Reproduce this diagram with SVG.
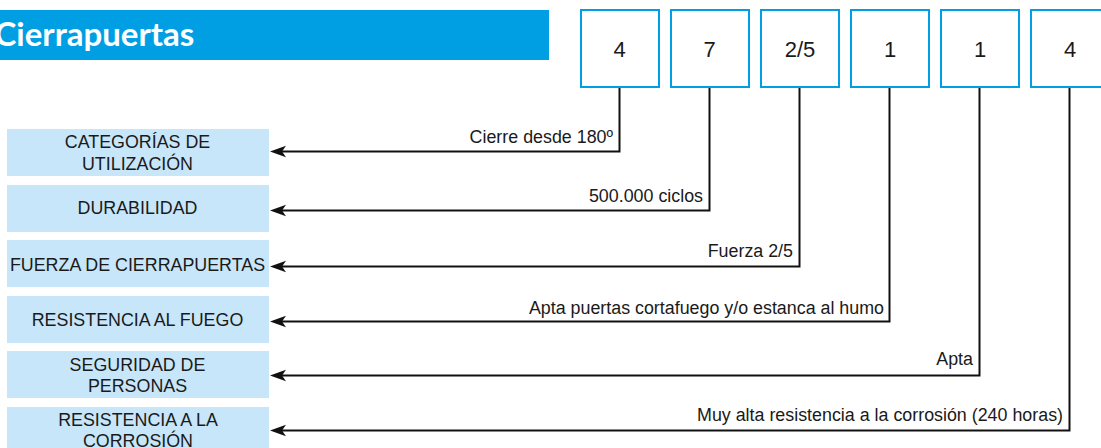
<svg xmlns="http://www.w3.org/2000/svg" width="1101" height="448" viewBox="0 0 1101 448">
<style>
text{font-family:"Liberation Sans",Arial,sans-serif;fill:#1a1a1a}
.t{font-size:17.85px;text-anchor:middle}
.l{font-size:17.85px;text-anchor:end}
.n{font-size:22px;text-anchor:middle}
.b{fill:#c8e6f9}
.s{fill:#fff;stroke:#009fe3;stroke-width:2}
.c{fill:none;stroke:#111;stroke-width:2;marker-end:url(#a)}
</style>
<defs><marker id="a" markerUnits="userSpaceOnUse" markerWidth="17" markerHeight="13" refX="6" refY="6.500" orient="auto"><path d="M16 6.500 L0 0.800 L4 6.500 L0 12.200 Z" fill="#111"/></marker></defs>
<rect id="title-bar" x="0" y="10" width="549" height="50" fill="#009fe3"/>
<text id="title" x="-5.500" y="46" style="font-family:'Lato','Open Sans',sans-serif;font-size:33px;font-weight:700;fill:#fff">Cierrapuertas</text>
<g id="connectors">
<path class="c" d="M619.500 87V151.500H280"/>
<path class="c" d="M709.500 87V210.500H280"/>
<path class="c" d="M799.500 87V266.500H280"/>
<path class="c" d="M889.500 87V321.500H280"/>
<path class="c" d="M979.500 87V375.500H280"/>
<path class="c" d="M1069.500 87V430.500H280"/>
</g>
<g id="code-1"><rect class="s" x="581" y="10" width="78" height="77"/><text class="n" x="619.500" y="57">4</text></g>
<g id="code-2"><rect class="s" x="671" y="10" width="78" height="77"/><text class="n" x="709.500" y="57">7</text></g>
<g id="code-3"><rect class="s" x="761" y="10" width="78" height="77"/><text class="n" x="800" y="57">2/5</text></g>
<g id="code-4"><rect class="s" x="851" y="10" width="78" height="77"/><text class="n" x="890" y="57">1</text></g>
<g id="code-5"><rect class="s" x="941" y="10" width="78" height="77"/><text class="n" x="980" y="57">1</text></g>
<g id="code-6"><rect class="s" x="1031" y="10" width="78" height="77"/><text class="n" x="1070" y="57">4</text></g>
<g id="cat-1"><rect class="b" x="7" y="129" width="262" height="47"/><text class="t" x="137.500" y="148">CATEGORÍAS DE</text><text class="t" x="137.500" y="170">UTILIZACIÓN</text></g>
<g id="cat-2"><rect class="b" x="7" y="185" width="262" height="47"/><text class="t" x="137.500" y="214">DURABILIDAD</text></g>
<g id="cat-3"><rect class="b" x="7" y="240" width="262" height="47"/><text class="t" x="137.500" y="270.500">FUERZA DE CIERRAPUERTAS</text></g>
<g id="cat-4"><rect class="b" x="7" y="296" width="262" height="47"/><text class="t" x="137.500" y="326">RESISTENCIA AL FUEGO</text></g>
<g id="cat-5"><rect class="b" x="7" y="351" width="262" height="47"/><text class="t" x="137.500" y="371">SEGURIDAD DE</text><text class="t" x="137.500" y="392">PERSONAS</text></g>
<g id="cat-6"><rect class="b" x="7" y="407" width="262" height="41"/><text class="t" x="138" y="426">RESISTENCIA A LA</text><text class="t" x="138" y="447">CORROSIÓN</text></g>
<g id="labels">
<text class="l" x="613" y="143">Cierre desde 180º</text>
<text class="l" x="703" y="201.500">500.000 ciclos</text>
<text class="l" x="793" y="257">Fuerza 2/5</text>
<text class="l" x="884" y="313.500">Apta puertas cortafuego y/o estanca al humo</text>
<text class="l" x="973" y="364.500">Apta</text>
<text class="l" x="1063" y="421">Muy alta resistencia a la corrosión (240 horas)</text>
</g>
</svg>
